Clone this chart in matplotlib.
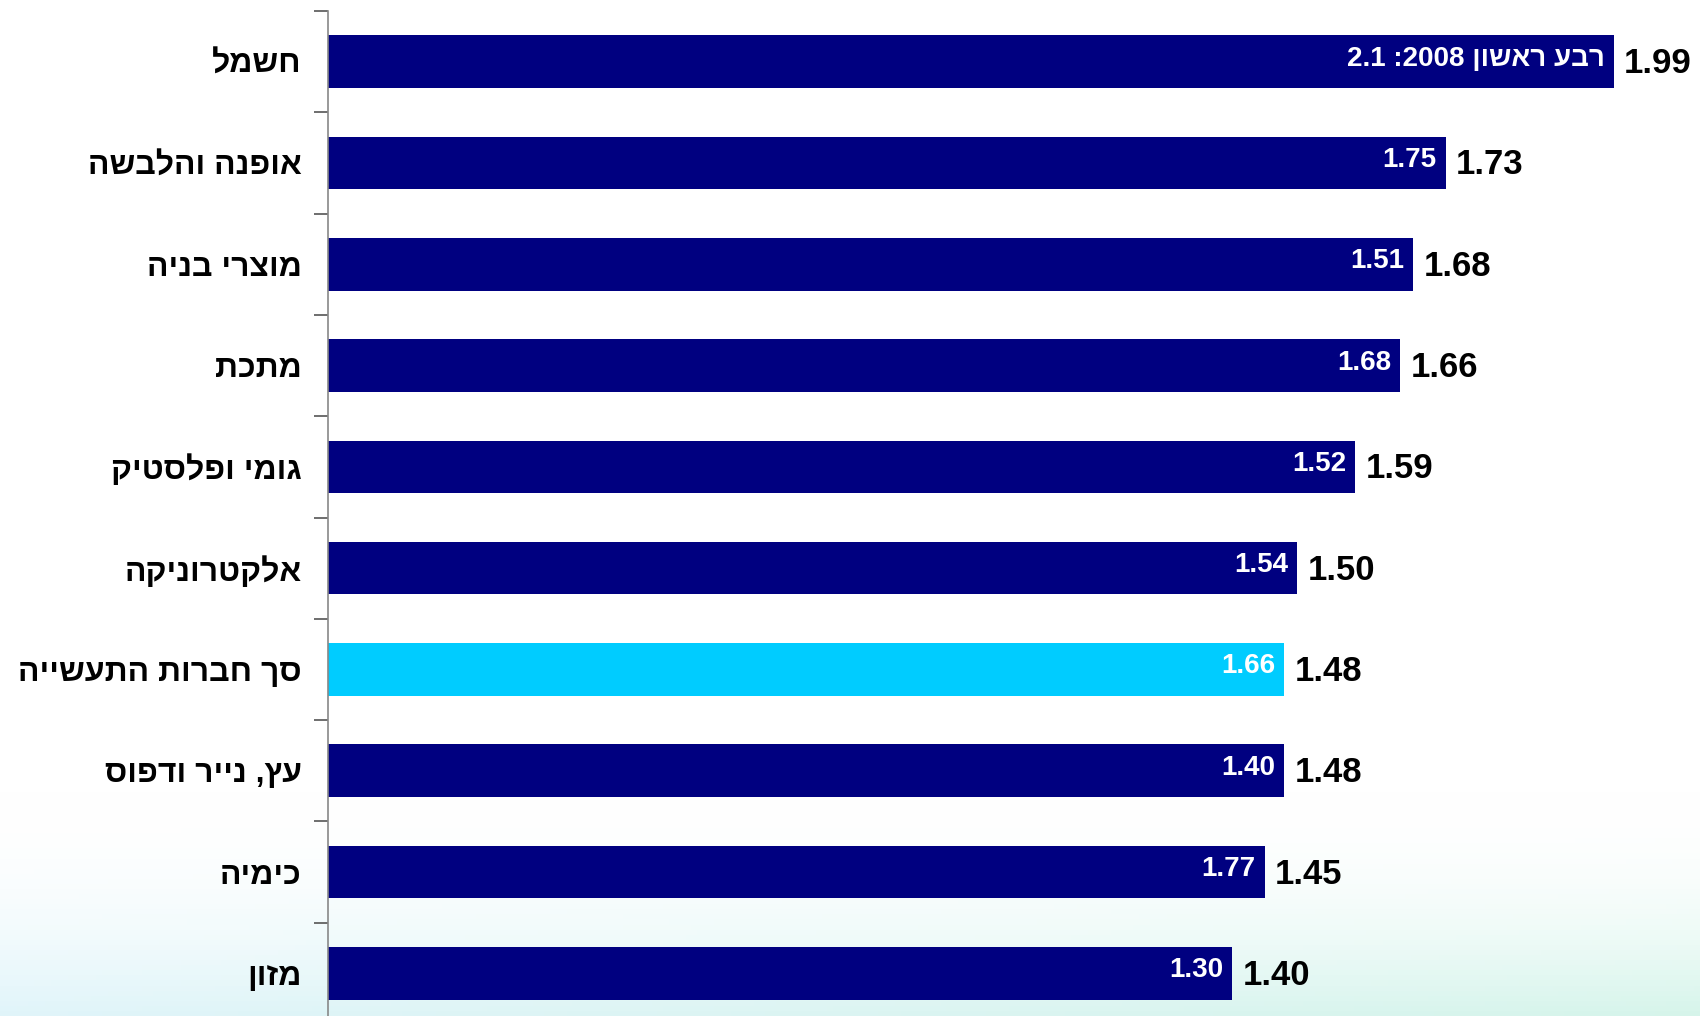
import numpy as np
import matplotlib.pyplot as plt

plt.rcParams['font.family'] = ['Liberation Sans', 'DejaVu Sans']

# data (top to bottom)
categories = ['חשמל', 'אופנה והלבשה', 'מוצרי בניה', 'מתכת', 'גומי ופלסטיק',
              'אלקטרוניקה', 'סך חברות התעשייה', 'עץ, נייר ודפוס', 'כימיה', 'מזון']
current = [1.99, 1.73, 1.68, 1.66, 1.59, 1.50, 1.48, 1.48, 1.45, 1.40]
previous = ['2.1', '1.75', '1.51', '1.68', '1.52', '1.54', '1.66', '1.40', '1.77', '1.30']


def visual(s):
    # matplotlib has no bidi support: flip Hebrew to visual order
    return s[::-1]


inner_labels = list(previous)
inner_labels[0] = previous[0] + ' :2008 ' + visual('רבע ראשון')

navy = '#000080'
cyan = '#00CCFF'
colors = [cyan if c == 'סך חברות התעשייה' else navy for c in categories]

W, H = 1700, 1016
fig = plt.figure(figsize=(17, 10.16), dpi=100)

# faint slide background at the bottom
bg = fig.add_axes([0, 0, 1, 1], zorder=0)
yy = np.linspace(0, 1, 200)[:, None]
xx = np.linspace(0, 1, 300)[None, :]
fade = np.clip((0.22 - yy) / 0.22, 0, 1) ** 2
r = 1 - fade * (0.12 + 0.04 * xx)
g = 1 - fade * (0.04 + 0.0 * xx)
b = 1 - fade * (0.02 + 0.06 * xx)
img = np.dstack([r, g * np.ones_like(xx), b * np.ones_like(xx)])
bg.imshow(img, extent=[0, 1, 0, 1], origin='lower', aspect='auto')
bg.axis('off')

left = 328 / W
top = 1 - 11 / H
bottom = 1 - 1024 / H
ax = fig.add_axes([left, bottom, 1 - left, top - bottom], zorder=1)
ax.patch.set_alpha(0)

n = len(categories)
y = np.arange(n)
ax.barh(y, current, height=0.52, color=colors)
ax.set_ylim(n - 0.5, -0.5)
ax.set_xlim(0, (W - 328) / 646)

ax.set_yticks(y)
ax.set_yticklabels([visual(c) for c in categories], fontsize=23, fontweight='bold')
ax.set_yticks(np.arange(n + 1) - 0.5, minor=True)
ax.tick_params(axis='y', which='major', length=0, pad=19)
ax.tick_params(axis='y', which='minor', length=10, width=1.2, color='#555555', direction='out')
ax.set_xticks([])
for s in ['top', 'right', 'bottom']:
    ax.spines[s].set_visible(False)
ax.spines['left'].set_color('#888888')
ax.spines['left'].set_linewidth(1.2)

for i in range(n):
    ax.text(current[i] + 0.016, y[i] + 0.02, f'{current[i]:.2f}', va='center', ha='left',
            fontsize=25, fontweight='bold', color='black')
    ax.text(current[i] - 0.014, y[i] - 0.03, inner_labels[i], va='center', ha='right',
            fontsize=20, fontweight='bold', color='white')

fig.savefig('out.png', dpi=100)
